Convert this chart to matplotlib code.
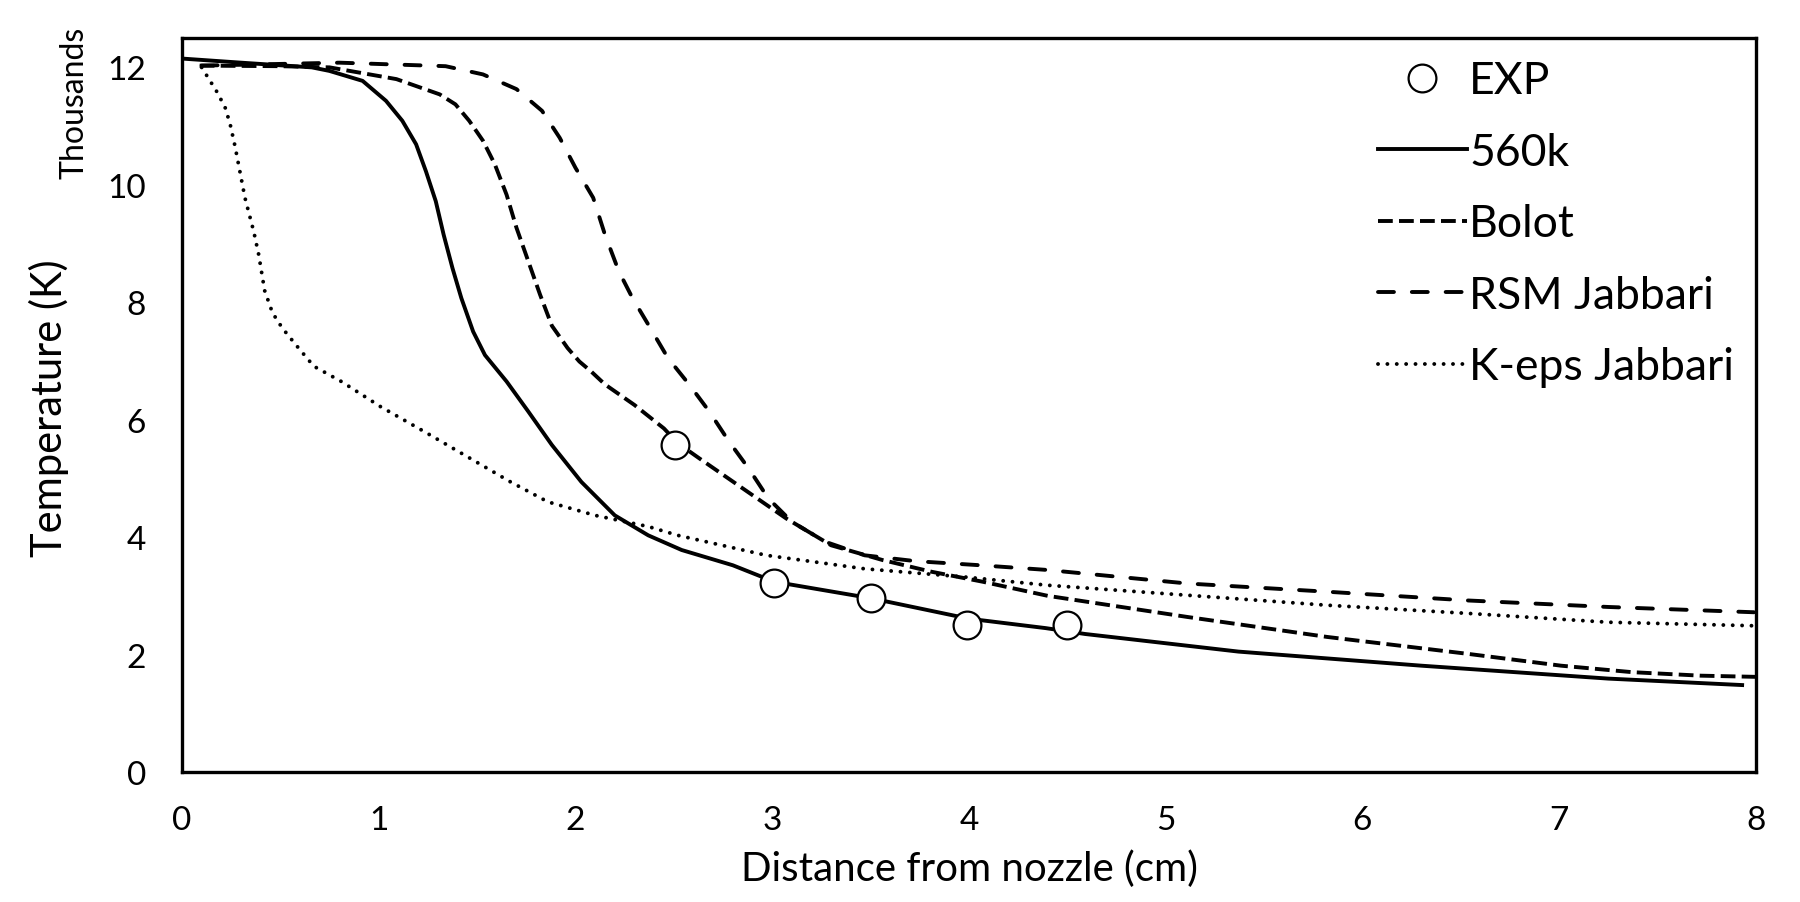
'''
Temperature along the jet axis: EXP vs. four simulations
'''

import matplotlib as mpl
import matplotlib.pyplot as plt

mpl.rcParams['font.family'] = ['Lato', 'DejaVu Sans']

# data (temperature in thousands of K, distance in cm)
x_exp = [2.505, 3.01, 3.5, 3.99, 4.5]
T_exp = [5.57, 3.22, 2.96, 2.51, 2.51]

x_560k = [0.0, 0.3, 0.66, 0.749, 0.918, 1.037, 1.12, 1.19, 1.24, 1.29, 1.33, 1.375, 1.42, 1.48,
          1.54, 1.65, 1.76, 1.88, 2.03, 2.2, 2.37, 2.54, 2.8, 3.01, 3.5, 4.0, 4.39, 4.59, 5.37,
          6.3, 7.25, 7.93]
T_560k = [12.15, 12.08, 12.0, 11.94, 11.77, 11.43, 11.09, 10.69, 10.23, 9.72, 9.15, 8.58, 8.07, 7.5,
          7.1, 6.65, 6.14, 5.57, 4.94, 4.37, 4.03, 3.78, 3.52, 3.24, 2.96, 2.61, 2.45, 2.35, 2.05,
          1.81, 1.59, 1.48]

x_bolot = [0.09, 0.5, 0.75, 1.09, 1.31, 1.39, 1.46, 1.53, 1.59, 1.65, 1.70, 1.76, 1.82, 1.88, 1.96,
           2.02, 2.08, 2.15, 2.3, 2.45, 2.52, 2.63, 2.85, 3.07, 3.3, 3.56, 3.81, 4.07, 4.4, 5.11,
           5.82, 6.54, 7.01, 7.37, 7.72, 8.0]
T_bolot = [12.03, 12.02, 12.0, 11.8, 11.54, 11.37, 11.09, 10.75, 10.35, 9.83, 9.27, 8.70, 8.13, 7.6, 7.22,
           6.99, 6.82, 6.6, 6.25, 5.85, 5.6, 5.34, 4.83, 4.32, 3.86, 3.61, 3.41, 3.24, 3.0, 2.64,
           2.3, 2.01, 1.81, 1.70, 1.64, 1.62]

x_rsm = [0.1, 0.8, 1.34, 1.53, 1.70, 1.83, 1.92, 2.0, 2.09, 2.15, 2.22, 2.29, 2.37, 2.47, 2.58,
         2.68, 2.78, 2.88, 2.98, 3.1, 3.27, 3.47, 3.73, 4.06, 4.4, 5.11, 5.82, 6.54, 7.25, 7.99]
T_rsm = [12.03, 12.08, 12.02, 11.88, 11.63, 11.26, 10.8, 10.29, 9.78, 9.15, 8.53, 8.07, 7.62, 7.05, 6.59,
         6.14, 5.63, 5.17, 4.66, 4.26, 3.92, 3.69, 3.59, 3.52, 3.44, 3.21, 3.07, 2.92, 2.81, 2.72]

x_keps = [0.1, 0.18, 0.22, 0.245, 0.27, 0.32, 0.365, 0.39, 0.42, 0.46, 0.51, 0.58, 0.67, 0.81, 1.01,
          1.23, 1.45, 1.67, 1.86, 2.1, 2.37, 2.52, 2.97, 3.47, 3.98, 4.4, 5.11, 5.82, 6.54, 7.25, 7.99]
T_keps = [12.0, 11.57, 11.31, 11.03, 10.65, 9.78, 9.2, 8.81, 8.2, 7.82, 7.56, 7.27, 6.91, 6.65, 6.22,
          5.80, 5.37, 4.94, 4.60, 4.37, 4.18, 4.03, 3.69, 3.46, 3.32, 3.18, 3.01, 2.84, 2.70, 2.55, 2.49]

# figure and axes placed by hand
fig = plt.figure(figsize=(18, 9.03), dpi=100)
ax = fig.add_axes([0.1011, 0.144, 0.8744, 0.8128])

lw = 2.8
ax.plot(x_560k, T_560k, color='k', lw=lw, label='560k', zorder=3)
ax.plot(x_bolot, T_bolot, color='k', lw=lw, ls=(0, (3.8, 1.6)), label='Bolot', zorder=3)
ax.plot(x_rsm, T_rsm, color='k', lw=lw, ls=(0, (4.1, 4.6)), dash_capstyle='round',
        label='RSM Jabbari', zorder=3)
ax.plot(x_keps, T_keps, color='k', lw=lw, ls=(0, (0.01, 2.4)), dash_capstyle='round',
        label='K-eps Jabbari', zorder=3)
ax.plot(x_exp, T_exp, ls='none', marker='o', ms=20, mfc='white', mec='k', mew=1.6,
        label='EXP', zorder=4)

# axes limits, ticks, spines
ax.set_xlim(0, 8)
ax.set_ylim(0, 12.5)
ax.set_xticks(range(0, 9))
ax.set_yticks(range(0, 13, 2))
ax.tick_params(length=0, labelsize=24)
ax.tick_params(axis='x', pad=24)
ax.tick_params(axis='y', pad=26)
for s in ax.spines.values():
    s.set_linewidth(2.4)

# labels
ax.set_xlabel('Distance from nozzle (cm)', fontsize=29)
ax.xaxis.set_label_coords(0.5, -0.106)
ax.set_ylabel('Temperature (K)', fontsize=30)
ax.yaxis.set_label_coords(-0.072, 0.497)
fig.text(75/1800, 1 - 103/903, 'Thousands', rotation=90, fontsize=23, ha='center', va='center')

# legend: EXP first
h, l = ax.get_legend_handles_labels()
order = [4, 0, 1, 2, 3]
ax.legend([h[i] for i in order], [l[i] for i in order], loc='upper left',
          bbox_to_anchor=(0.7655, 0.932), bbox_transform=fig.transFigure,
          frameon=False, fontsize=32, handlelength=2.0, handletextpad=0.05,
          labelspacing=0.685, borderpad=0, borderaxespad=0)

plt.savefig('out.png', dpi=100)
